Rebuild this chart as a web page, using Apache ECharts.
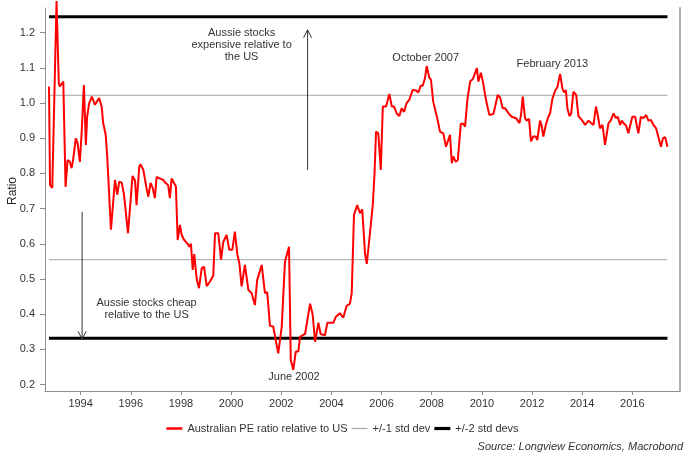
<!DOCTYPE html>
<html>
<head>
<meta charset="utf-8">
<script src="https://cdn.jsdelivr.net/npm/echarts@6/dist/echarts.min.js"></script>
<style>html,body{margin:0;padding:0;background:#fff;}#c{width:685px;height:452px;}</style>
</head>
<body>
<div id="c"></div>
<script>
// Decimal-year dates of the Australian/US PE ratio series
var dates = [1992.74,1992.78,1992.87,1993.04,1993.13,1993.17,1993.24,1993.31,1993.40,1993.48,1993.57,1993.64,1993.70,1993.81,1993.88,1993.97,
1994.04,1994.13,1994.21,1994.26,1994.34,1994.45,1994.57,1994.64,1994.74,1994.84,1994.90,1995.00,1995.06,1995.21,1995.37,1995.46,1995.54,1995.64,1995.73,1995.89,
1996.07,1996.17,1996.23,1996.34,1996.39,1996.50,1996.56,1996.63,1996.70,1996.79,1996.87,1996.96,1997.03,1997.14,1997.20,1997.29,1997.40,1997.49,1997.56,1997.63,1997.69,1997.76,1997.80,1997.87,1997.96,
1998.03,1998.13,1998.27,1998.33,1998.40,1998.47,1998.53,1998.63,1998.72,1998.83,1998.92,1999.03,1999.16,1999.29,1999.36,1999.49,1999.60,1999.69,1999.82,1999.93,
2000.05,2000.15,2000.25,2000.33,2000.42,2000.55,2000.69,2000.82,2000.95,2001.04,2001.22,2001.35,2001.44,2001.55,2001.68,2001.88,
2002.02,2002.15,2002.22,2002.31,2002.38,2002.48,2002.58,2002.68,2002.75,2002.95,2003.15,2003.25,2003.35,2003.48,2003.57,2003.74,2003.84,
2004.08,2004.18,2004.34,2004.47,2004.61,2004.74,2004.81,2004.90,2005.03,2005.14,2005.23,2005.34,2005.41,2005.51,2005.65,2005.72,2005.78,2005.87,2005.97,
2006.05,2006.18,2006.31,2006.41,2006.50,2006.60,2006.71,2006.80,2006.90,2007.00,2007.11,2007.24,2007.37,2007.47,2007.56,2007.64,2007.73,2007.80,2007.90,2007.97,
2008.06,2008.13,2008.22,2008.33,2008.46,2008.57,2008.66,2008.73,2008.80,2008.86,2008.96,2009.04,2009.16,2009.26,2009.33,2009.42,2009.53,2009.64,2009.80,2009.86,2009.96,
2010.04,2010.13,2010.22,2010.30,2010.46,2010.53,2010.63,2010.73,2010.83,2010.93,2011.06,2011.19,2011.36,2011.50,2011.56,2011.63,2011.72,2011.79,2011.88,2011.96,
2012.05,2012.15,2012.21,2012.32,2012.39,2012.45,2012.55,2012.65,2012.72,2012.81,2012.92,2013.01,2013.12,2013.21,2013.28,2013.35,2013.41,2013.49,2013.56,2013.65,2013.76,2013.85,2013.98,
2014.12,2014.25,2014.36,2014.45,2014.55,2014.62,2014.71,2014.81,2014.91,2015.05,2015.14,2015.25,2015.34,2015.42,2015.51,2015.58,2015.67,2015.75,2015.84,2015.91,
2016.00,2016.11,2016.18,2016.24,2016.34,2016.44,2016.55,2016.64,2016.74,2016.84,2016.95,2017.02,2017.14,2017.22,2017.31,2017.40];

var ratio = [1.047,0.767,0.759,1.290,1.057,1.047,1.043,1.061,0.762,0.838,0.833,0.815,0.838,0.900,0.886,0.833,
0.914,1.051,0.881,0.961,0.999,1.018,0.995,0.995,1.014,0.990,0.943,0.910,0.850,0.640,0.782,0.740,0.777,0.774,0.740,0.630,
0.793,0.780,0.710,0.820,0.826,0.810,0.810,0.758,0.734,0.773,0.760,0.730,0.790,0.786,0.790,0.782,0.772,0.767,0.730,0.786,0.777,0.782,0.763,0.611,0.654,
0.625,0.611,0.600,0.592,0.600,0.526,0.571,0.500,0.474,0.531,0.535,0.480,0.493,0.510,0.630,0.630,0.555,0.606,0.625,0.583,
0.583,0.635,0.570,0.545,0.479,0.540,0.469,0.460,0.426,0.497,0.540,0.460,0.463,0.367,0.365,0.289,
0.365,0.550,0.550,0.592,0.270,0.242,0.294,0.294,0.336,0.344,0.430,0.400,0.322,0.376,0.344,0.340,0.376,
0.376,0.393,0.403,0.390,0.424,0.430,0.460,0.682,0.710,0.687,0.698,0.573,0.543,0.611,0.710,0.800,0.919,0.914,0.810,
0.990,0.990,1.026,0.990,0.990,0.971,0.963,0.985,0.975,1.000,1.010,1.037,1.036,1.030,1.049,1.049,1.070,1.105,1.073,1.066,
1.004,1.000,0.957,0.919,0.914,0.876,0.895,0.910,0.829,0.848,0.833,0.838,0.941,0.941,0.933,1.009,1.061,1.068,1.099,1.061,1.086,
1.061,1.023,0.990,0.966,0.969,0.990,1.023,1.015,0.985,0.985,0.971,0.961,0.957,0.943,0.966,1.018,0.957,0.950,0.955,0.891,
0.905,0.905,0.895,0.950,0.933,0.905,0.938,0.961,0.971,1.011,1.035,1.045,1.083,1.042,1.030,1.037,0.985,0.963,0.970,1.032,1.023,0.963,0.952,
0.938,0.950,0.943,0.938,0.990,0.966,0.928,0.938,0.881,0.943,0.950,0.971,0.957,0.961,0.938,0.950,0.941,0.936,0.914,0.913,
0.961,0.961,0.960,0.914,0.961,0.957,0.966,0.950,0.952,0.938,0.928,0.928,0.876,0.900,0.903,0.876];

// Standard-deviation bands (upper, lower)
var std1 = [1.022, 0.555];
var std2 = [1.245, 0.332];

var yTicks = [0.2,0.3,0.4,0.5,0.6,0.7,0.8,0.9,1.0,1.1,1.2];
var xTicks = [1994,1996,1998,2000,2002,2004,2006,2008,2010,2012,2014,2016];

var seriesNames = ['Australian PE ratio relative to US', '+/-1 std dev', '+/-2 std devs'];

var chart = echarts.init(document.getElementById('c'), null, {renderer:'canvas'});
var FONT = 'Liberation Sans, Arial, sans-serif';
var first = dates[0], last = dates[dates.length-1];

function band(v){ return [[first, v],[last, v]]; }

var pe = dates.map(function(d,i){ return [d, ratio[i]]; });

chart.setOption({
  animation: false,
  backgroundColor: '#fff',
  grid: {left: 45, right: 5, top: 8, bottom: 61, containLabel: false},
  xAxis: {
    type: 'value', min: 1992.58, max: 2017.9,
    axisLine: {show: true, lineStyle: {color: '#8c8c8c', width: 1}},
    axisTick: {show: true, customValues: xTicks, length: 4, lineStyle: {color: '#8c8c8c'}},
    axisLabel: {customValues: xTicks, color: '#333', fontFamily: FONT, fontSize: 11, margin: 7,
      formatter: function(v){ return String(Math.round(v)); }},
    splitLine: {show: false}
  },
  yAxis: [{
    type: 'value', min: 0.182, max: 1.27, position: 'left',
    axisLine: {show: true, lineStyle: {color: '#8c8c8c', width: 1}},
    axisTick: {show: true, customValues: yTicks, length: 5, lineStyle: {color: '#8c8c8c'}},
    axisLabel: {customValues: yTicks, color: '#333', fontFamily: FONT, fontSize: 11, margin: 10,
      formatter: function(v){ return v.toFixed(1); }},
    splitLine: {show: false}
  },{
    type: 'value', min: 0.182, max: 1.27, position: 'right',
    axisLine: {show: true, lineStyle: {color: '#b0b0b0', width: 2}},
    axisTick: {show: false}, axisLabel: {show: false}, splitLine: {show: false}
  }],
  legend: {
    top: 418, left: 'center', itemWidth: 16, itemHeight: 10, itemGap: 4, symbolKeepAspect: true,
    textStyle: {color: '#333', fontFamily: FONT, fontSize: 11},
    data: [
      {name: seriesNames[0], icon: 'path://M0,0H16V2.5H0Z', itemStyle: {color: '#ff0000'}},
      {name: seriesNames[1], icon: 'path://M0,0H16V1.2H0Z', itemStyle: {color: '#a6a6a6'}},
      {name: seriesNames[2], icon: 'path://M0,0H16V3.2H0Z', itemStyle: {color: '#000'}}
    ]
  },
  series: [
    {name: seriesNames[1], type: 'line', data: band(std1[0]), symbol: 'none', lineStyle: {color: '#a6a6a6', width: 1}, itemStyle: {color: '#a6a6a6'}},
    {name: seriesNames[1], type: 'line', data: band(std1[1]), symbol: 'none', lineStyle: {color: '#a6a6a6', width: 1}, itemStyle: {color: '#a6a6a6'}},
    {name: seriesNames[2], type: 'line', data: band(std2[0]), symbol: 'none', lineStyle: {color: '#000', width: 3}, itemStyle: {color: '#000'}},
    {name: seriesNames[2], type: 'line', data: band(std2[1]), symbol: 'none', lineStyle: {color: '#000', width: 3}, itemStyle: {color: '#000'}},
    {name: seriesNames[0], type: 'line', data: pe, symbol: 'none', clip: false, z: 5,
      lineStyle: {color: '#ff0000', width: 2}, itemStyle: {color: '#ff0000'}}
  ]
});

// Annotations placed in data coordinates
var annText = [
  {t: 'Aussie stocks\nexpensive relative to\nthe US', x: 2000.42, y: 1.165},
  {t: 'Aussie stocks cheap\nrelative to the US', x: 1996.63, y: 0.415},
  {t: 'October 2007', x: 2007.76, y: 1.128},
  {t: 'February 2013', x: 2012.81, y: 1.111},
  {t: 'June 2002', x: 2002.51, y: 0.221}
];
var arrows = [
  {x: 2003.05, y0: 0.81, y1: 1.208},
  {x: 1994.06, y0: 0.691, y1: 0.329}
];

var g = [];
annText.forEach(function(a){
  var p = chart.convertToPixel({gridIndex:0}, [a.x, a.y]);
  g.push({type:'text', x: p[0], y: p[1], z: 10,
    style: {text: a.t, fill: '#333', font: '11px ' + FONT, textAlign: 'center', textVerticalAlign: 'middle', lineHeight: 12}});
});
arrows.forEach(function(a){
  var p0 = chart.convertToPixel({gridIndex:0}, [a.x, a.y0]);
  var p1 = chart.convertToPixel({gridIndex:0}, [a.x, a.y1]);
  var dir = p1[1] < p0[1] ? 1 : -1;
  g.push({type:'line', z: 10, shape: {x1: p0[0], y1: p0[1], x2: p1[0], y2: p1[1]}, style: {stroke: '#333', lineWidth: 1}});
  g.push({type:'polyline', z: 10, shape: {points: [[p1[0]-4, p1[1]+dir*8],[p1[0], p1[1]],[p1[0]+4, p1[1]+dir*8]]}, style: {stroke: '#333', lineWidth: 1, fill: null}});
});
g.push({type:'text', x: 13, y: 191, rotation: Math.PI/2, z: 10,
  style: {text: 'Ratio', fill: '#222', font: '12px ' + FONT, textAlign: 'center', textVerticalAlign: 'middle'}});
g.push({type:'text', right: 2, top: 441, z: 10,
  style: {text: 'Source: Longview Economics, Macrobond', fill: '#333', font: 'italic 11px ' + FONT, textAlign: 'right'}});
chart.setOption({graphic: g});
</script>
</body>
</html>
